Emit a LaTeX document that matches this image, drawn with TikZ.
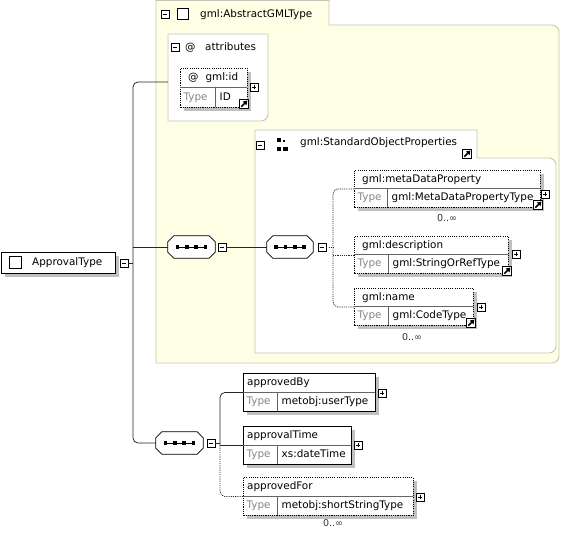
\documentclass[tikz,border=0pt]{standalone}
\usepackage{fontspec}
\setmainfont{DejaVu Sans}
\usetikzlibrary{shadows,arrows.meta}
\definecolor{panelfill}{RGB}{255,255,230}
\definecolor{panelline}{RGB}{196,196,184}
\definecolor{shadowc}{RGB}{192,192,192}
\definecolor{typegray}{RGB}{135,135,135}
\definecolor{divgray}{RGB}{100,100,100}
\tikzset{
  shad/.style={drop shadow={shadow xshift=3.5pt,shadow yshift=-3.5pt,fill=shadowc,opacity=1}},
  mydots/.style={dash pattern=on 1.1pt off 1.1pt},
  elem/.style={draw=black,line width=0.9pt,fill=white,shad,inner sep=0pt,anchor=north west},
  optelem/.style={elem,mydots},
  txt/.style={inner sep=0pt,anchor=west,font=\fontsize{10.4}{12}\selectfont,text height=7.6pt,text depth=2pt},
  typetxt/.style={txt,text=typegray},
  occ/.style={inner sep=0pt,font=\fontsize{9.5}{11}\selectfont,text=black!80},
  pmbox/.style={draw=black,fill=white,line width=0.7pt,minimum size=8pt,inner sep=0pt},
  plusbox/.style={pmbox,path picture={
      \draw[black,line width=0.8pt] ([xshift=1.6pt]path picture bounding box.west) -- ([xshift=-1.6pt]path picture bounding box.east);
      \draw[black,line width=0.8pt] ([yshift=-1.6pt]path picture bounding box.north) -- ([yshift=1.6pt]path picture bounding box.south);}},
  minusbox/.style={pmbox,path picture={
      \draw[black,line width=0.8pt] ([xshift=1.6pt]path picture bounding box.west) -- ([xshift=-1.6pt]path picture bounding box.east);}},
  linkbox/.style={draw=black,fill=white,line width=0.8pt,minimum size=9.5pt,inner sep=0pt,path picture={
      \draw[black,line width=1.7pt,-{Triangle[length=4pt,width=5pt]}] ([shift={(2pt,2pt)}]path picture bounding box.south west) -- ([shift={(-1.3pt,-1.3pt)}]path picture bounding box.north east);}},
  typeicon/.style={draw=black,fill=white,line width=0.8pt,inner sep=0pt},
  seqbox/.style={rectangle,minimum height=22pt,inner sep=0pt},
  octline/.style={draw=black,line width=0.8pt,fill=white},
  conn/.style={draw=black!85,line width=0.8pt},
  optconn/.style={conn,mydots},
  panel/.style={draw=panelline,line width=0.9pt,fill=panelfill},
  subpanel/.style={draw=panelline,line width=0.9pt,fill=white},
}
% #1 name, #2 style, #3 x1, #4 y1, #5 x2, #6 y2, #7 type divider x, #8 title, #9 type
\newcommand{\elbox}[9]{%
  \node[#2, minimum width={(#5-#3)*1pt}, minimum height={(#6-#4)*1pt}] (#1) at (#3,#4) {};
  \draw[divgray,line width=0.6pt] (#3,{(#4+#6)/2}) -- (#5,{(#4+#6)/2});
  \draw[divgray,line width=0.6pt] (#7,{(#4+#6)/2}) -- (#7,#6);
  \node[txt] (#1-t) at ({#3+\toff},{(3*#4+#6)/4}) {#8};
  \node[typetxt] (#1-k) at ({#3+3.5},{(#4+3*#6)/4}) {Type};
  \node[txt] (#1-v) at ({#7+4.5},{(#4+3*#6)/4}) {#9};
}
% sequence compositor: #1 name, #2 x, #3 y, #4 width
\newcommand{\seqnode}[4]{%
  \node[seqbox,minimum width=#4pt] (#1) at (#2,#3) {};
  \path[fill=shadowc,shift={(3.5pt,-3.5pt)}]
    ([xshift=6pt]#1.north west) -- ([xshift=-6pt]#1.north east) -- ([yshift=-6pt]#1.north east)
    -- ([yshift=6pt]#1.south east) -- ([xshift=-6pt]#1.south east) -- ([xshift=6pt]#1.south west)
    -- ([yshift=6pt]#1.south west) -- ([yshift=-6pt]#1.north west) -- cycle;
  \path[octline]
    ([xshift=6pt]#1.north west) -- ([xshift=-6pt]#1.north east) -- ([yshift=-6pt]#1.north east)
    -- ([yshift=6pt]#1.south east) -- ([xshift=-6pt]#1.south east) -- ([xshift=6pt]#1.south west)
    -- ([yshift=6pt]#1.south west) -- ([yshift=-6pt]#1.north west) -- cycle;
  \draw[black,line width=0.9pt] ([xshift=-14pt]#1.center) -- ([xshift=14pt]#1.center);
  \foreach \dx in {-14,-4.7,4.7,14}
    \fill[black] ([xshift=\dx pt]#1.center) +(-1.8pt,-1.8pt) rectangle +(1.8pt,1.8pt);
}
\begin{document}
\begin{tikzpicture}[x=1pt,y=-1pt]
\useasboundingbox (0,0) rectangle (561,535);

% ---------- outer panel gml:AbstractGMLType ----------
\path[panel] (156,0.5) -- (329,0.5) -- (329,25) -- (552,25)
  .. controls (555.9,25) and (559,28.1) .. (559,32) -- (559,356)
  .. controls (559,359.9) and (555.9,363) .. (552,363) -- (156,363) -- cycle;
\node[minusbox] (agmin) at (165,14) {};
\node[typeicon,minimum size=11pt] (agico) at (182.5,14) {};
\node[txt] (agtxt) at (200,14.5) {gml:AbstractGMLType};

% ---------- attributes panel ----------
\path[subpanel] (168,34) -- (268,34) -- (268,114)
  .. controls (268,117.9) and (264.9,121) .. (261,121) -- (168,121) -- cycle;
\coordinate (attrL) at (168,82);
\node[minusbox] (atmin) at (175,47) {};
\node[txt] (atat) at (185,47.5) {@};
\node[txt] (attxt) at (205,47.5) {attributes};

\def\toff{8}
\elbox{gid}{optelem}{180}{68}{247}{107}{215}{@\hspace{7pt}gml:id}{ID}
\node[plusbox] (gidp) at (254,87) {};
\node[linkbox] (gidl) at (244,104) {};

% ---------- StandardObjectProperties panel ----------
\path[subpanel] (255,130) -- (477,130) -- (477,158) -- (549,158)
  .. controls (552.9,158) and (556,161.1) .. (556,165) -- (556,346)
  .. controls (556,349.9) and (552.9,353) .. (549,353) -- (255,353) -- cycle;
\node[minusbox] (sopmin) at (260,145) {};
\fill (276.5,137.5) rectangle (280.5,142);
\fill (282.5,139.5) rectangle (284.5,142);
\fill (276.5,146.5) rectangle (280.5,151);
\fill (282.5,146.5) rectangle (287.5,151);
\node[txt] (soptxt) at (300,143) {gml:StandardObjectProperties};
\node[linkbox] (sopl) at (467,154) {};

\elbox{mdp}{optelem}{354}{170}{540}{207}{387}{gml:metaDataProperty}{gml:MetaDataPropertyType}
\node[plusbox] (mdpp) at (545,194) {};
\node[linkbox] (mdpl) at (538,205) {};
\node[occ] (mdpo) at (447,218) {0..∞};

\elbox{desc}{optelem}{354}{236}{508}{273}{388}{gml:description}{gml:StringOrRefType}
\node[plusbox] (descp) at (516,254) {};
\node[linkbox] (descl) at (507,271) {};

\elbox{gname}{optelem}{354}{288}{473}{325}{388}{gml:name}{gml:CodeType}
\node[plusbox] (gnamep) at (481,307) {};
\node[linkbox] (gnamel) at (471,323) {};
\node[occ] (gnameo) at (412,337) {0..∞};

% ---------- root element ----------
\node[elem,line width=1pt,minimum width=114pt,minimum height=21pt] (root) at (1,252) {};
\node[typeicon,minimum size=12.5pt] (rootico) at (15.5,262.5) {};
\node[txt] (roottxt) at (32,263) {ApprovalType};
\node[minusbox] (rootm) at (124,263) {};

% ---------- sequences ----------
\seqnode{seq1}{191.5}{247}{47}
\node[minusbox] (s1m) at (222,247) {};
\seqnode{seq2}{290}{247}{46}
\node[minusbox] (s2m) at (322,247) {};
\seqnode{seq3}{179.5}{443}{47}
\node[minusbox] (s3m) at (211,443) {};

% ---------- lower elements ----------
\def\toff{4}
\elbox{aby}{elem}{243}{373}{375}{411}{277}{approvedBy}{metobj:userType}
\node[plusbox] (abyp) at (382,393) {};
\elbox{atime}{elem}{243}{426}{351}{464}{277}{approvalTime}{xs:dateTime}
\node[plusbox] (atimep) at (358,445) {};
\elbox{afor}{optelem}{243}{477}{413}{515}{277}{approvedFor}{metobj:shortStringType}
\node[plusbox] (aforp) at (420,497) {};
\node[occ] (aforo) at (333,523) {0..∞};

% ---------- connectors ----------
\coordinate (trunk) at (133,263);
\draw[conn,rounded corners=5pt] (attrL) -- (attrL -| trunk) -- (seq3.west -| trunk) -- (seq3.west);
\draw[conn] (rootm.east) -- (trunk);
\draw[conn] (seq1.west -| trunk) -- (seq1.west);
\draw[conn] (s1m.east) -- (seq2.west);

\coordinate (v2) at (333,247);
\draw[optconn] (s2m.east) -- (v2);
\draw[optconn,rounded corners=5pt] (mdp.west) -- (mdp.west -| v2) -- (gname.west -| v2) -- (gname.west);
\draw[optconn] (desc.west -| v2) -- (desc.west);

\coordinate (v3) at (220,443);
\draw[conn] (s3m.east) -- (v3);
\draw[conn,rounded corners=5pt] (aby.west) -- (aby.west -| v3) -- (atime.west -| v3);
\draw[conn] (atime.west -| v3) -- (atime.west);
\draw[optconn,rounded corners=5pt] (atime.west -| v3) -- (afor.west -| v3) -- (afor.west);
\end{tikzpicture}
\end{document}
